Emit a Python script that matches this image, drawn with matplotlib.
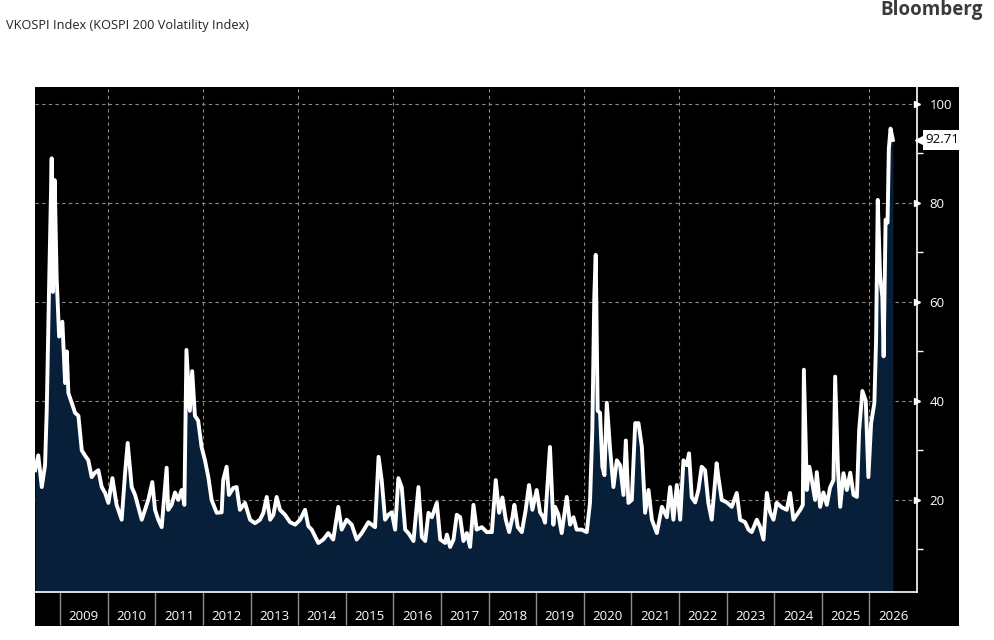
import matplotlib.pyplot as plt
import matplotlib.transforms as mtransforms
from matplotlib.patches import Rectangle
import pandas as pd

# VKOSPI readings (approximate)
dates = [
    "2008-06-23", "2008-07-17", "2008-08-13", "2008-09-07", "2008-09-20", "2008-10-08", "2008-10-28",
    "2008-11-06", "2008-11-20", "2008-12-05", "2008-12-24",
    "2009-01-18", "2009-02-08", "2009-02-21", "2009-03-05", "2009-03-31", "2009-04-25", "2009-05-21",
    "2009-06-16", "2009-07-10", "2009-08-05", "2009-08-31", "2009-09-25", "2009-10-21", "2009-11-16", "2009-12-12",
    "2010-01-06", "2010-02-06", "2010-03-10", "2010-04-18", "2010-05-14", "2010-06-03", "2010-07-04",
    "2010-07-30", "2010-09-19", "2010-10-14", "2010-11-08", "2010-12-09", "2010-12-30",
    "2011-01-24", "2011-02-19", "2011-03-29", "2011-04-10", "2011-05-06", "2011-06-01", "2011-06-26",
    "2011-07-22", "2011-08-12", "2011-08-28", "2011-09-23", "2011-10-11", "2011-11-01", "2011-11-26", "2011-12-22",
    "2012-01-17", "2012-02-12", "2012-03-08", "2012-04-16", "2012-05-24", "2012-06-05", "2012-07-01",
    "2012-07-19", "2012-08-21", "2012-09-16", "2012-10-11", "2012-11-19", "2012-12-28",
    "2013-02-04", "2013-03-14", "2013-04-09", "2013-05-05", "2013-05-31", "2013-06-25", "2013-07-20",
    "2013-08-15", "2013-09-22", "2013-10-31", "2013-12-09",
    "2014-01-16", "2014-02-23", "2014-03-20", "2014-04-15", "2014-06-05", "2014-07-13", "2014-08-20",
    "2014-09-27", "2014-11-05", "2014-12-01",
    "2015-01-08", "2015-02-16", "2015-03-26", "2015-05-04", "2015-06-24", "2015-08-14", "2015-09-10",
    "2015-10-04", "2015-10-30", "2015-11-24", "2015-12-20",
    "2016-01-15", "2016-02-09", "2016-03-06", "2016-04-01", "2016-04-26", "2016-06-04", "2016-07-12",
    "2016-08-07", "2016-09-02", "2016-09-27", "2016-10-23", "2016-11-30", "2016-12-26",
    "2017-02-02", "2017-02-15", "2017-03-12", "2017-04-07", "2017-05-02", "2017-05-28", "2017-06-22",
    "2017-07-18", "2017-08-12", "2017-09-07", "2017-10-02", "2017-11-10", "2017-12-18",
    "2018-01-26", "2018-02-25", "2018-03-23", "2018-04-17", "2018-05-13", "2018-06-08", "2018-07-03",
    "2018-07-18", "2018-08-13", "2018-09-13", "2018-10-13", "2018-11-07", "2018-12-03",
    "2019-01-05", "2019-01-31", "2019-02-25", "2019-03-10", "2019-04-17", "2019-05-13", "2019-05-26",
    "2019-06-21", "2019-07-16", "2019-08-24", "2019-09-18", "2019-10-14", "2019-11-08", "2019-12-16",
    "2020-01-24", "2020-02-18", "2020-03-07", "2020-03-22", "2020-04-02", "2020-04-17", "2020-05-05",
    "2020-05-23", "2020-06-08", "2020-06-26", "2020-07-22", "2020-08-16", "2020-09-11", "2020-10-06",
    "2020-11-01", "2020-11-19", "2020-12-09",
    "2021-01-04", "2021-01-30", "2021-02-24", "2021-03-22", "2021-04-16", "2021-05-12", "2021-06-07",
    "2021-07-15", "2021-08-23", "2021-09-30", "2021-10-25", "2021-11-19", "2021-12-15",
    "2022-01-10", "2022-02-04", "2022-03-02", "2022-03-19", "2022-04-09", "2022-05-05", "2022-05-30",
    "2022-06-24", "2022-07-20", "2022-08-14", "2022-09-09", "2022-10-17", "2022-10-30", "2022-11-25",
    "2023-01-03", "2023-02-10", "2023-03-20", "2023-04-15", "2023-05-23", "2023-06-18", "2023-07-13",
    "2023-08-21", "2023-09-16", "2023-10-11", "2023-11-06", "2023-12-01", "2023-12-27",
    "2024-01-21", "2024-02-28", "2024-04-07", "2024-05-02", "2024-05-28", "2024-06-23", "2024-07-19",
    "2024-08-08", "2024-08-16", "2024-09-08", "2024-09-27", "2024-10-16", "2024-11-10", "2024-11-23", "2024-12-19",
    "2025-01-13", "2025-02-08", "2025-03-05", "2025-03-31", "2025-04-13", "2025-05-05", "2025-05-22",
    "2025-06-16", "2025-07-12", "2025-08-07", "2025-09-01", "2025-09-27", "2025-10-14", "2025-11-08",
    "2025-12-04", "2025-12-24",
    "2026-01-14", "2026-02-08", "2026-02-21", "2026-03-06", "2026-03-24", "2026-04-10", "2026-04-20",
    "2026-05-05", "2026-05-20", "2026-05-30", "2026-06-12", "2026-06-30",
]
values = [
    26, 29, 22.6, 27, 38, 63, 89, 62, 84.6, 65, 53,
    56, 43.6, 50, 41.6, 39.6, 37.6, 37, 30, 29, 28, 24.6, 25.5, 26, 22.6, 21.4,
    19.4, 24.4, 19, 16, 25.4, 31.5, 22.6, 21, 16, 18, 20, 23.6, 18,
    16, 14.5, 26.5, 18, 19, 21.5, 20, 22, 19, 50.3, 38, 46, 37, 36, 30.7,
    28, 24.6, 20, 17.4, 17.5, 24, 26.7, 21, 22.4, 22.6, 18, 19.4, 16,
    15.3, 16, 17.4, 20.6, 16, 17, 20.6, 18, 17, 15.5, 15,
    16, 18, 14.7, 14, 11.3, 12, 13.3, 12, 18.6, 14,
    16, 15, 12, 13.3, 15.5, 14.5, 28.7, 24, 16, 17, 17.5,
    14, 24.4, 22.5, 14, 13.3, 11.7, 22.6, 12.5, 11.7, 17.4, 16.5, 19.4, 12,
    11.3, 13, 10.5, 12, 17, 16.5, 11.7, 13.3, 10.5, 19, 14, 14.5, 13.5,
    13.5, 24, 17.4, 20.5, 16, 13.5, 16.5, 19, 14.5, 13.5, 18, 23, 18,
    22, 17.5, 16.5, 15.4, 30.7, 15, 18.6, 17, 13.3, 20.6, 15, 16.5, 14, 14,
    13.5, 19.4, 34, 61, 69.5, 38, 37.6, 26.7, 25, 39.6, 30, 22.6, 28, 27, 21, 32, 19.4,
    20, 35.5, 35.5, 30.7, 17.4, 22, 16, 13.3, 18.6, 16.5, 22.6, 16, 23,
    16, 28, 27, 29.4, 20.5, 19.5, 22, 26.7, 26, 19.4, 16, 27.4, 24.6, 20,
    19.5, 18.6, 21.4, 16, 15.5, 14, 13.5, 16, 14.5, 12, 21.4, 17.5, 16,
    19.4, 18.5, 18, 21.4, 16, 17, 18, 19, 46.3, 22, 26.7, 24, 20, 25.6, 18.6,
    21.5, 19, 22.5, 24, 44.9, 26, 18.6, 25.4, 22, 25.5, 21, 20.6, 34, 42, 40, 24.6,
    35.5, 39.6, 52.3, 80.6, 65, 61, 49, 76.6, 76, 91, 95, 92.71,
]
last_value = 92.71
years = list(range(2009, 2027))
y_ticks = [20, 40, 60, 80, 100]

x = pd.to_datetime(dates)

plt.rcParams['font.family'] = ['Open Sans', 'DejaVu Sans']

fig = plt.figure(figsize=(9.94, 6.4), dpi=100)
W, H = 994, 640
# black panel behind the plot, year strip and right-hand scale
fig.patches.append(Rectangle((35 / W, 1 - 626 / H), (959 - 35) / W, (626 - 87) / H,
                             transform=fig.transFigure, facecolor='black', edgecolor='none', zorder=-1))

ax = fig.add_axes([35 / W, 1 - 592 / H, (917 - 35) / W, (592 - 87) / H])
ax.set_facecolor('black')

ax.fill_between(x, values, 0, color='#071f38', lw=0, zorder=2)
ax.plot(x, values, color='white', lw=2.8, solid_joinstyle='round', zorder=3)

ax.set_xlim(pd.Timestamp('2008-06-22'), pd.Timestamp('2027-01-01'))
ax.set_ylim(1.4, 103.4)

# grid
for yv in y_ticks:
    ax.axhline(yv, color='#8a8a8a', lw=0.8, ls=(0, (3, 3)), zorder=1)
for yr in years[1::2]:
    ax.axvline(pd.Timestamp(f'{yr}-01-01'), color='#8a8a8a', lw=0.8, ls=(0, (3, 3)), zorder=1)

# x axis: year boundaries as ticks, labels at mid-year
ax.set_xticks([pd.Timestamp(f'{yr}-01-01') for yr in years])
ax.set_xticklabels([])
ax.set_xticks([pd.Timestamp(f'{yr}-07-02') for yr in years], minor=True)
ax.set_xticklabels([str(yr) for yr in years], minor=True)
ax.tick_params(axis='x', which='major', length=24, width=1, color='#8c8c8c', direction='out')
ax.tick_params(axis='x', which='minor', length=0, pad=13, labelcolor='white', labelsize=9.5)

# y axis on the right
ax.yaxis.tick_right()
ax.set_yticks(y_ticks)
ax.set_yticklabels([str(v) for v in y_ticks])
ax.set_yticks(range(10, 101, 20), minor=True)
ax.tick_params(axis='y', which='major', length=0, pad=9, labelcolor='white', labelsize=9.5)
ax.tick_params(axis='y', which='minor', length=4, width=1, color='white', direction='out')

trans = mtransforms.blended_transform_factory(ax.transAxes, ax.transData)
ax.plot([1.0] * len(y_ticks), y_ticks, marker='>', ms=5, color='white', lw=0,
        transform=trans, clip_on=False, zorder=5)

for side in ['top', 'left']:
    ax.spines[side].set_visible(False)
for side in ['bottom', 'right']:
    ax.spines[side].set_color('white')
    ax.spines[side].set_linewidth(1.2)

# last value tag
ax.plot([1.005], [last_value], marker='<', ms=8, color='white', lw=0,
        transform=trans, clip_on=False, zorder=5)
ax.text(1.010, last_value, f'{last_value:.2f}', transform=trans, ha='left', va='center',
        fontsize=9.5, color='black', zorder=6,
        bbox=dict(boxstyle='square,pad=0.25', facecolor='white', edgecolor='none'))

fig.text(6 / W, 1 - 25 / H, 'VKOSPI Index (KOSPI 200 Volatility Index)', fontsize=9.2,
         color='#222222', ha='left', va='center')
fig.text(983 / W, 1 - 10 / H, 'Bloomberg', fontsize=13.5, fontweight='bold',
         color='#3a3a3a', ha='right', va='center')

fig.savefig('out.png', dpi=100)
